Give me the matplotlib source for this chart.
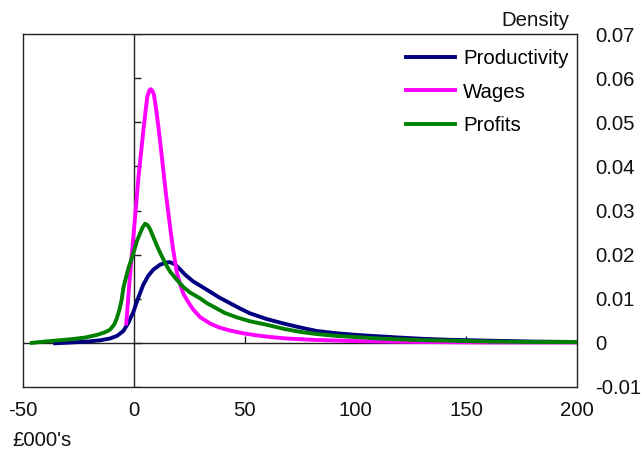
import matplotlib
matplotlib.use("Agg")
import matplotlib.pyplot as plt

plt.rcParams['font.family'] = ['Liberation Sans', 'DejaVu Sans']
plt.rcParams['axes.unicode_minus'] = False

# values (income, £000's -> density)
prod_x = [-35.5, -28, -21, -15, -10.7, -7.5, -4.7, -2.5, -0.2, 2, 4.3, 6.5, 8.8, 11.8, 14.5,
          16.3, 18.5, 20.8, 23.5, 26.9, 30.5, 34.4, 38.5, 43.4, 47.9, 52.4, 60, 67.5, 75,
          82.5, 91, 100.5, 110, 120, 131, 142.5, 160, 180, 200]
prod_y = [-0.0001, 0.0001, 0.0003, 0.0006, 0.001, 0.0016, 0.0027, 0.0045, 0.007, 0.0102,
          0.0132, 0.0152, 0.0166, 0.0177, 0.0182, 0.0183, 0.0178, 0.0167, 0.0153, 0.0139,
          0.0128, 0.0116, 0.0103, 0.009, 0.0078, 0.0067, 0.0054, 0.0044, 0.0035, 0.0027,
          0.0022, 0.0018, 0.0015, 0.0012, 0.0009, 0.0007, 0.0005, 0.0003, 0.0002]

wage_x = [-3.4, -2.0, -1.0, -0.2, 1.0, 2.0, 3.2, 4.3, 5.3, 6.1, 7.0, 7.6, 8.3, 9.1, 10.0, 11.1,
          12.2, 13.3, 14.5, 15.6, 16.7, 17.8, 19.4, 20.8, 22.3, 24.6, 26.9, 30.0, 34.4, 38.5,
          43.4, 49, 55.5, 62, 69, 80, 100, 130, 160, 200]
wage_y = [0.0044, 0.0135, 0.0195, 0.024, 0.031, 0.037, 0.0428, 0.048, 0.0525, 0.0558,
          0.0572, 0.0575, 0.0572, 0.0562, 0.0532, 0.049, 0.0442, 0.0392, 0.0338, 0.0294,
          0.025, 0.021, 0.016, 0.0135, 0.0112, 0.0092, 0.0075, 0.0058, 0.0044, 0.0035,
          0.0028, 0.0022, 0.0017, 0.0013, 0.001, 0.0007, 0.0004, 0.0002, 0.0001, 0.0001]

prof_x = [-46, -38, -28.8, -22, -16.7, -13, -10.7, -8.8, -7.7, -6.5, -5.5, -4.7, -2.5, -0.2,
          1.5, 2.8, 4.0, 5.1, 6.2, 7.3, 8.8, 10.3, 11.8, 13.3, 14.8, 16.3, 19.4, 22.3, 25.4,
          29.9, 33, 37.4, 41, 46.4, 52.4, 60, 67.5, 75, 82.5, 91, 100.5, 110, 120, 131,
          142.5, 160, 180, 200]
prof_y = [0.0, 0.0004, 0.0008, 0.0012, 0.0018, 0.0024, 0.003, 0.0042, 0.0055, 0.0075, 0.0097,
          0.0125, 0.0168, 0.0203, 0.0232, 0.0248, 0.0262, 0.027, 0.0267, 0.0258, 0.024,
          0.0222, 0.0205, 0.019, 0.0175, 0.0162, 0.0143, 0.0127, 0.0114, 0.0101, 0.009,
          0.0078, 0.0068, 0.0058, 0.0049, 0.0041, 0.0032, 0.0025, 0.002, 0.0016, 0.0013,
          0.001, 0.0008, 0.0006, 0.0005, 0.0003, 0.0002, 0.0002]

x_ticks = [-50, 0, 50, 100, 150, 200]
y_ticks = [-0.01, 0, 0.01, 0.02, 0.03, 0.04, 0.05, 0.06, 0.07]
y_labels = ['-0.01', '0', '0.01', '0.02', '0.03', '0.04', '0.05', '0.06', '0.07']

fs = 14.7

fig = plt.figure(figsize=(6.42, 4.5), dpi=100)
ax = fig.add_axes([0.0358, 0.14, 0.863, 0.7844])

# zero lines with their small tick marks
ax.axhline(0, color='#222222', lw=1, zorder=1)
ax.axvline(0, color='#222222', lw=1, zorder=1)
ax.plot([0] * len(y_ticks), y_ticks, ls='none', marker=1, ms=5, mew=1, color='#222222', zorder=1)
ax.plot([t for t in x_ticks if t not in (-50, 0, 200)], [0] * 3, ls='none', marker=2, ms=5,
        mew=1, color='#222222', zorder=1)

ax.plot(prod_x, prod_y, color='#000080', lw=2.8, label='Productivity', zorder=3)
ax.plot(wage_x, wage_y, color='#FF00FF', lw=2.8, label='Wages', zorder=3)
ax.plot(prof_x, prof_y, color='#008000', lw=2.8, label='Profits', zorder=3)

ax.set_xlim(-50, 200)
ax.set_ylim(-0.01, 0.07)
ax.set_xticks(x_ticks)
ax.set_yticks(y_ticks)
ax.set_yticklabels(y_labels)
ax.yaxis.tick_right()
ax.tick_params(axis='y', length=0, pad=13, labelsize=fs, colors='#111111')
ax.tick_params(axis='x', length=0, pad=10, labelsize=fs, colors='#111111')
for sp in ax.spines.values():
    sp.set_color('#222222')
    sp.set_linewidth(1)

ax.legend(loc='upper left', bbox_to_anchor=(0.691, 0.958), frameon=False, fontsize=fs,
          handlelength=2.39, handletextpad=0.41, labelspacing=0.72, borderpad=0,
          borderaxespad=0)

ax.text(0.987, 1.012, 'Density', transform=ax.transAxes, ha='right', va='bottom',
        fontsize=fs, color='#111111')
fig.text(12 / 642, 1 - 440 / 450, "£000's", ha='left', va='center', fontsize=fs,
         color='#111111')

fig.savefig('out.png', dpi=100)
